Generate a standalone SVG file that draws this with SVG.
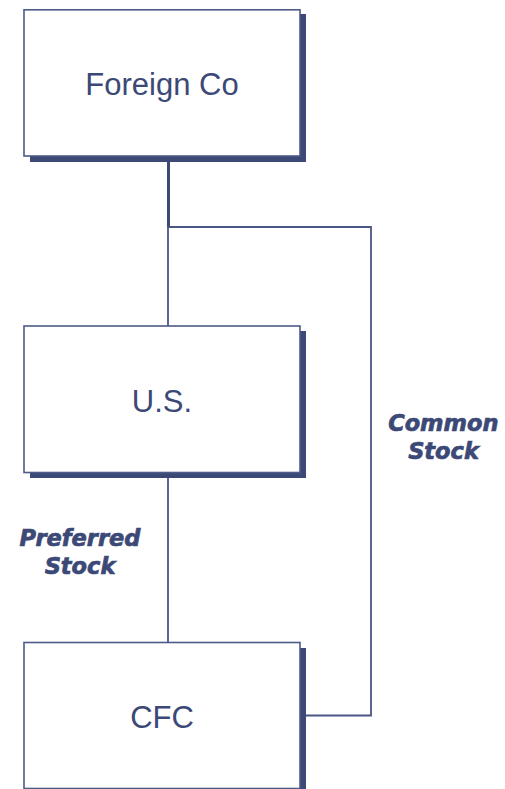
<svg xmlns="http://www.w3.org/2000/svg" width="505" height="789" viewBox="0 0 505 789">
  <style>
    .shadow { fill: #3c4977; }
    .box { fill: #ffffff; stroke: #4e5a88; stroke-width: 1.6; }
    .name { font-family: "Liberation Sans", Arial, sans-serif; font-size: 31px; fill: #3c4977; text-anchor: middle; }
    .label { font-family: "DejaVu Sans", Verdana, sans-serif; font-size: 22.5px; font-weight: bold; font-style: italic; fill: #3c4977; stroke: #3c4977; stroke-width: 0.7; text-anchor: middle; }
    .wire { fill: none; stroke: #4a5684; stroke-width: 1.8; }
    .trunk { fill: none; stroke: #3c4977; stroke-width: 3; }
  </style>
  <rect width="505" height="789" fill="#ffffff"/>

  <!-- ownership lines -->
  <g id="connectors">
    <line class="trunk" x1="168.5" y1="157" x2="168.5" y2="227"/>
    <polyline class="wire" points="168.5,227 371,227 371,715.5 306,715.5"/>
    <line class="wire" x1="168" y1="227" x2="168" y2="326"/>
    <line class="wire" x1="168" y1="478" x2="168" y2="642"/>
  </g>

  <g id="foreign-co">
    <rect class="shadow" x="30" y="14" width="276" height="148"/>
    <rect class="box" x="24" y="9.8" width="276" height="146.2"/>
    <text class="name" x="162" y="95">Foreign Co</text>
  </g>

  <g id="us">
    <rect class="shadow" x="30" y="331" width="276" height="147"/>
    <rect class="box" x="24" y="326" width="276" height="146.5"/>
    <text class="name" x="162" y="411.5">U.S.</text>
  </g>

  <g id="cfc">
    <rect class="shadow" x="30" y="648" width="276" height="147"/>
    <rect class="box" x="24" y="642.5" width="276" height="146"/>
    <text class="name" x="162" y="728.3">CFC</text>
  </g>

  <g id="label-preferred">
    <text class="label" x="80" y="545.7">Preferred</text>
    <text class="label" x="80" y="574.3">Stock</text>
  </g>

  <g id="label-common">
    <text class="label" x="443.3" y="431">Common</text>
    <text class="label" x="443.5" y="459.3">Stock</text>
  </g>
</svg>
